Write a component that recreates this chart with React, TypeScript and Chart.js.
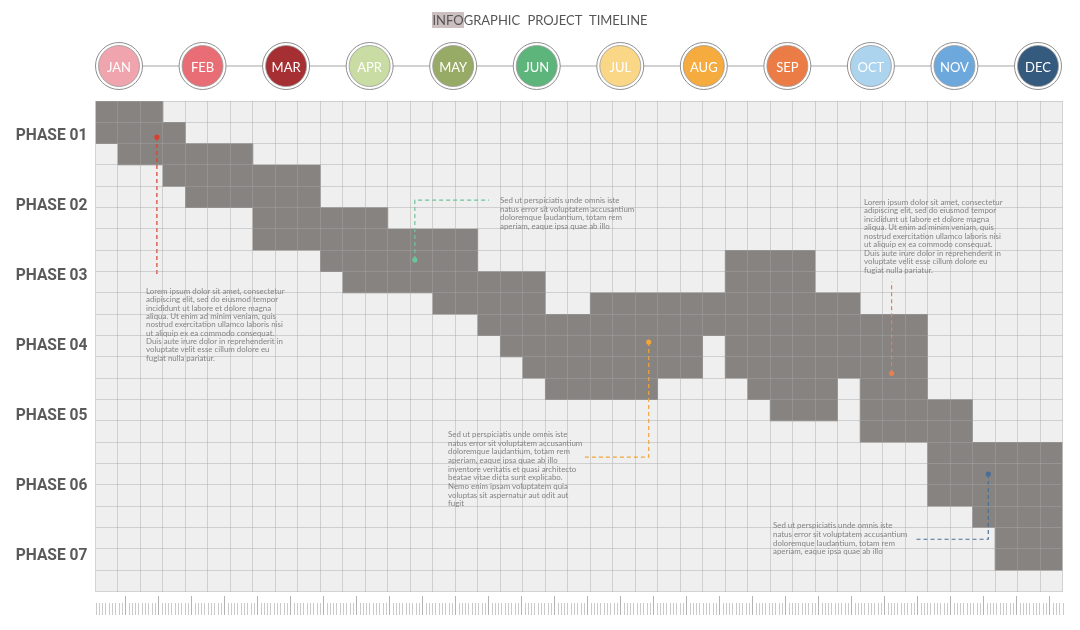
import React, { useEffect, useRef } from "react";
import { Chart, registerables } from "chart.js";

Chart.register(...registerables);

// ---------- data ----------
const MONTHS = ["JAN", "FEB", "MAR", "APR", "MAY", "JUN", "JUL", "AUG", "SEP", "OCT", "NOV", "DEC"];
const MONTH_COLORS = ["#f0a4ad", "#e86d74", "#a52f33", "#c9dca4", "#98ab66", "#5db57c", "#fad687", "#f5ab3e", "#ec7c45", "#acd4ef", "#6da8dc", "#345a7e"];
const PHASES = ["PHASE 01", "PHASE 02", "PHASE 03", "PHASE 04", "PHASE 05", "PHASE 06", "PHASE 07"];

const GRID_COLS = 43;
const GRID_ROWS = 23;
const ROW_INDEX = Array.from({ length: GRID_ROWS }, (_, i) => i);

// filled blocks per grid row: [start column, end column)
const SPAN_A_START = [0, 0, 1, 3, 4, 7, 7, 10, 11, 15, 17, 18, 19, 20, 30, 34, 37, 37, 37, 39, 40, 40, null];
const SPAN_A_END = [3, 4, 7, 10, 10, 13, 17, 17, 20, 20, 37, 27, 27, 25, 33, 39, 43, 43, 43, 43, 43, 43, null];
const SPAN_B_START = [null, null, null, null, null, null, null, 28, 28, 22, null, 28, 28, 29, 34, null, null, null, null, null, null, null, null];
const SPAN_B_END = [null, null, null, null, null, null, null, 32, 32, 34, null, 37, 37, 33, 39, null, null, null, null, null, null, null, null];
const SPAN_C_START = [null, null, null, null, null, null, null, null, null, null, null, null, null, 34, null, null, null, null, null, null, null, null, null];
const SPAN_C_END = [null, null, null, null, null, null, null, null, null, null, null, null, null, 37, null, null, null, null, null, null, null, null, null];

// dashed call-out connectors (grid column / grid row units), dot at the first point
const RED_X = [2.73, 2.73];
const RED_Y = [1.69, 8.25];
const GREEN_X = [14.2, 14.2, 17.5];
const GREEN_Y = [7.45, 4.65, 4.65];
const GOLD_X = [24.6, 24.6, 21.7];
const GOLD_Y = [11.3, 16.7, 16.7];
const ORANGE_X = [35.4, 35.4];
const ORANGE_Y = [12.77, 8.47];
const BLUE_X = [39.7, 39.7, 36.5];
const BLUE_Y = [17.49, 20.55, 20.55];

const TEXT_LOREM = [
  "Lorem ipsum dolor sit amet, consectetur",
  "adipiscing elit, sed do eiusmod tempor",
  "incididunt ut labore et dolore magna",
  "aliqua. Ut enim ad minim veniam, quis",
  "nostrud exercitation ullamco laboris nisi",
  "ut aliquip ex ea commodo consequat.",
  "Duis aute irure dolor in reprehenderit in",
  "voluptate velit esse cillum dolore eu",
  "fugiat nulla pariatur.",
];
const TEXT_SED_SHORT = [
  "Sed ut perspiciatis unde omnis iste",
  "natus error sit voluptatem accusantium",
  "doloremque laudantium, totam rem",
  "aperiam, eaque ipsa quae ab illo",
];
const TEXT_SED_LONG = [
  "Sed ut perspiciatis unde omnis iste",
  "natus error sit voluptatem accusantium",
  "doloremque laudantium, totam rem",
  "aperiam, eaque ipsa quae ab illo",
  "inventore veritatis et quasi architecto",
  "beatae vitae dicta sunt explicabo.",
  "Nemo enim ipsam voluptatem quia",
  "voluptas sit aspernatur aut odit aut",
  "fugit",
];

// ---------- styles ----------
const BLOCK_COLOR = "#878381";
const GRID_LINE = "rgba(167,167,167,0.44)";
const AREA_BG = "#efefef";

const toBars = (starts: (number | null)[], ends: (number | null)[]) =>
  ROW_INDEX.flatMap((r) => (starts[r] == null ? [] : [{ x: [starts[r], ends[r]], y: r + 0.5 }]));

const toLine = (xs: number[], ys: number[]) => xs.map((x, i) => ({ x, y: ys[i] }));

const barDs = (starts: (number | null)[], ends: (number | null)[]) => ({
  type: "bar" as const,
  indexAxis: "y" as const,
  data: toBars(starts, ends) as any,
  backgroundColor: BLOCK_COLOR,
  borderWidth: 0,
  grouped: false,
  barPercentage: 1,
  categoryPercentage: 1,
  xAxisID: "x",
  yAxisID: "y",
  order: 2,
});

const lineDs = (xs: number[], ys: number[], color: string) => ({
  type: "line" as const,
  indexAxis: "x" as const,
  data: toLine(xs, ys) as any,
  borderColor: color,
  borderWidth: 1.2,
  borderDash: [4, 3],
  pointRadius: xs.map((_, i) => (i === 0 ? 2.6 : 0)),
  pointBackgroundColor: color,
  pointBorderWidth: 0,
  fill: false,
  tension: 0,
  clip: false as any,
  xAxisID: "x",
  yAxisID: "y",
  order: 0,
});

const areaBg = {
  id: "areaBg",
  beforeDraw(chart: any) {
    const { ctx, chartArea } = chart;
    ctx.save();
    ctx.fillStyle = AREA_BG;
    ctx.fillRect(chartArea.left, chartArea.top, chartArea.right - chartArea.left, chartArea.bottom - chartArea.top);
    ctx.restore();
  },
};

const ruler = {
  id: "ruler",
  afterDraw(chart: any) {
    const { ctx, chartArea } = chart;
    const n = 293;
    const step = (chartArea.right - chartArea.left) / n;
    ctx.save();
    ctx.lineWidth = 1;
    for (let i = 0; i <= n; i++) {
      const x = Math.round(chartArea.left + i * step) + 0.5;
      const major = i % 10 === 9;
      ctx.strokeStyle = major ? "#b3b3b3" : "#cacaca";
      ctx.beginPath();
      ctx.moveTo(x, major ? 596 : 603);
      ctx.lineTo(x, 615);
      ctx.stroke();
    }
    ctx.restore();
  },
};

function TextBlock({ lines, left, top, lh }: { lines: string[]; left: number; top: number; lh: number }) {
  return (
    <div
      style={{
        position: "absolute",
        left,
        top,
        fontFamily: "Lato, 'Open Sans', sans-serif",
        fontSize: 7.9,
        lineHeight: lh + "px",
        color: "#838383",
        whiteSpace: "pre",
      }}
    >
      {lines.join("\n")}
    </div>
  );
}

export default function App() {
  const canvasRef = useRef<HTMLCanvasElement | null>(null);

  useEffect(() => {
    if (!canvasRef.current) return;
    const chart = new Chart(canvasRef.current, {
      type: "bar",
      data: {
        datasets: [
          barDs(SPAN_A_START, SPAN_A_END),
          barDs(SPAN_B_START, SPAN_B_END),
          barDs(SPAN_C_START, SPAN_C_END),
          lineDs(RED_X, RED_Y, "#d8402e"),
          lineDs(GREEN_X, GREEN_Y, "#6cc59a"),
          lineDs(GOLD_X, GOLD_Y, "#f2a53c"),
          lineDs(ORANGE_X, ORANGE_Y, "#ea7f4c"),
          lineDs(BLUE_X, BLUE_Y, "#4a6f96"),
        ] as any,
      },
      options: {
        responsive: false,
        animation: false,
        devicePixelRatio: 1,
        layout: { padding: { top: 101, right: 17.5, bottom: 38.5, left: 0 } },
        plugins: { legend: { display: false }, tooltip: { enabled: false } },
        scales: {
          x: {
            type: "linear",
            position: "bottom",
            min: 0,
            max: GRID_COLS,
            offset: false,
            ticks: { display: false, stepSize: 1 },
            grid: { color: GRID_LINE, lineWidth: 1, drawTicks: false, offset: false, z: 1 } as any,
            border: { display: false },
            afterFit: (s: any) => {
              s.height = 0;
            },
          },
          y: {
            type: "linear",
            position: "left",
            reverse: true,
            min: 0,
            max: GRID_ROWS,
            offset: false,
            weight: 0,
            ticks: { display: false, stepSize: 1 },
            grid: { color: GRID_LINE, lineWidth: 1, drawTicks: false, offset: false, z: 1 } as any,
            border: { display: false },
            afterFit: (s: any) => {
              s.width = 0;
            },
          },
          yPhase: {
            type: "category",
            position: "left",
            labels: PHASES,
            offset: true,
            weight: 1,
            grid: { display: false, drawTicks: false },
            border: { display: false },
            ticks: {
              color: "#5a5a5a",
              padding: 8,
              font: { family: "Roboto", size: 15.6, weight: "bold" },
            },
            afterFit: (s: any) => {
              s.width = 95.5;
            },
          },
        } as any,
      },
      plugins: [areaBg, ruler],
    });
    return () => chart.destroy();
  }, []);

  const cx0 = 119;
  const dx = (1038 - 119) / 11;

  return (
    <div style={{ position: "absolute", left: 0, top: 0, width: 1080, height: 630, background: "#fff", overflow: "hidden" }}>
      <canvas ref={canvasRef} width={1080} height={630} style={{ position: "absolute", left: 0, top: 0, width: 1080, height: 630 }} />
      <div
        style={{
          position: "absolute",
          left: 0,
          top: 11,
          width: 1080,
          textAlign: "center",
          fontFamily: "Lato, sans-serif",
          fontSize: 13,
          lineHeight: "18px",
          color: "#555",
          wordSpacing: 4,
        }}
      >
        <span style={{ background: "#cbbfbf" }}>INFO</span>GRAPHIC PROJECT TIMELINE
      </div>
      <svg width={1080} height={100} style={{ position: "absolute", left: 0, top: 0 }}>
        <line x1={cx0} x2={cx0 + dx * 11} y1={66} y2={66} stroke="#a5a5a5" strokeWidth={1} />
        {MONTHS.map((m, i) => {
          const cx = cx0 + dx * i;
          return (
            <g key={m}>
              <circle cx={cx} cy={66} r={23.5} fill="#fff" stroke="#8e8e8e" strokeWidth={1} />
              <circle cx={cx} cy={66} r={20.5} fill={MONTH_COLORS[i]} stroke="#9c9c9c" strokeWidth={0.8} />
              <text
                x={cx}
                y={67}
                textAnchor="middle"
                dominantBaseline="central"
                fill="#fff"
                fontFamily="Lato, sans-serif"
                fontSize={13}
              >
                {m}
              </text>
            </g>
          );
        })}
      </svg>
      <TextBlock lines={TEXT_LOREM} left={146} top={287} lh={8.35} />
      <TextBlock lines={TEXT_SED_SHORT} left={500} top={196} lh={8.67} />
      <TextBlock lines={TEXT_LOREM} left={864} top={197.5} lh={8.54} />
      <TextBlock lines={TEXT_SED_LONG} left={448} top={430} lh={8.67} />
      <TextBlock lines={TEXT_SED_SHORT} left={773} top={521} lh={8.8} />
    </div>
  );
}
